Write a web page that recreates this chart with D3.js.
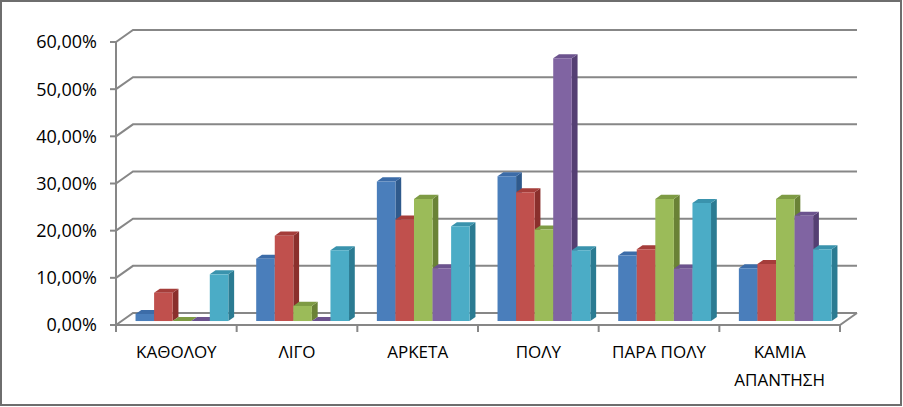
<!DOCTYPE html>
<html>
<head>
<meta charset="utf-8">
<script src="https://cdn.jsdelivr.net/npm/d3@7"></script>
<style>
  body { margin: 0; background: #fff; }
  svg { display: block; }
  text { font-family: "Open Sans", sans-serif; fill: #000; }
</style>
</head>
<body>
<div id="chart"></div>
<script>
// chart data
var categories = ["ΚΑΘΟΛΟΥ", "ΛΙΓΟ", "ΑΡΚΕΤΑ", "ΠΟΛΥ", "ΠΑΡΑ ΠΟΛΥ", "ΚΑΜΙΑ ΑΠΑΝΤΗΣΗ"];
var series1 = [0.015, 0.132, 0.296, 0.307, 0.139, 0.112];
var series2 = [0.060, 0.181, 0.215, 0.273, 0.152, 0.121];
var series3 = [0.000, 0.032, 0.259, 0.194, 0.259, 0.259];
var series4 = [0.000, 0.000, 0.112, 0.557, 0.111, 0.223];
var series5 = [0.099, 0.150, 0.201, 0.150, 0.250, 0.152];
var yTicks = [0, 0.1, 0.2, 0.3, 0.4, 0.5, 0.6];

var allSeries = [series1, series2, series3, series4, series5];

// face colours per series: front, side, top
var colors = [
  { front: "#4a7ebb", side: "#2f5a8c", top: "#3c6ca8" },
  { front: "#c0504d", side: "#8a2f2c", top: "#a53d3a" },
  { front: "#9bbb59", side: "#6a8236", top: "#7e9b44" },
  { front: "#8064a2", side: "#553f73", top: "#6c538e" },
  { front: "#4bacc6", side: "#2b7b92", top: "#3a93ad" }
];

var width = 903, height = 407;
var margin = { top: 42, right: 63, bottom: 82, left: 116 };
var depthX = 17, depthY = -12;      // wall / floor depth
var barD0 = 0.33, barD1 = 0.67;     // bar depth range inside the floor

var svg = d3.select("#chart").append("svg")
  .attr("width", width)
  .attr("height", height);

var x0 = margin.left, x1 = width - margin.right;
var yBase = height - margin.bottom;

var x = d3.scaleBand()
  .domain(categories)
  .range([x0, x1])
  .padding(0);

var xs = d3.scaleBand()
  .domain(d3.range(allSeries.length))
  .range([0, x.bandwidth()])
  .paddingInner(0)
  .paddingOuter(0.75);

var y = d3.scaleLinear()
  .domain([0, 0.6])
  .range([yBase, margin.top]);

var fmt = d3.formatLocale({ decimal: ",", thousands: ".", grouping: [3], currency: ["", "€"] }).format(".2%");

function P(px, py, d) {
  return [px + depthX * d, py + depthY * d];
}
function poly(pts) {
  return "M" + pts.map(function(p) { return p[0] + "," + p[1]; }).join("L") + "Z";
}

var gridColor = "#878787";

// back wall gridlines + left wall diagonals
var grid = svg.append("g");
yTicks.forEach(function(t) {
  var yy = y(t);
  var a = P(x0, yy, 0), b = P(x0, yy, 1), c = P(x1, yy, 1);
  grid.append("path")
    .attr("d", "M" + a + "L" + b + "L" + c)
    .attr("fill", "none")
    .attr("stroke", gridColor)
    .attr("stroke-width", 2);
  // tick mark on the front axis
  grid.append("line")
    .attr("x1", x0 - 6).attr("x2", x0)
    .attr("y1", yy).attr("y2", yy)
    .attr("stroke", gridColor)
    .attr("stroke-width", 2);
});

// floor front edge and right diagonal
var fr = P(x1, yBase, 1);
grid.append("path")
  .attr("d", "M" + [x0, yBase] + "L" + [x1, yBase] + "L" + fr)
  .attr("fill", "none")
  .attr("stroke", gridColor)
  .attr("stroke-width", 2);

// front y axis
grid.append("line")
  .attr("x1", x0).attr("x2", x0)
  .attr("y1", y(0.6)).attr("y2", yBase + 7)
  .attr("stroke", gridColor)
  .attr("stroke-width", 2);

// category ticks
categories.forEach(function(c) {
  var xx = x(c) + x.bandwidth();
  grid.append("line")
    .attr("x1", xx).attr("x2", xx)
    .attr("y1", yBase).attr("y2", yBase + 7)
    .attr("stroke", gridColor)
    .attr("stroke-width", 2);
});

// y tick labels
svg.append("g").selectAll("text")
  .data(yTicks)
  .enter().append("text")
  .attr("x", x0 - 19)
  .attr("y", function(d) { return y(d); })
  .attr("dy", "0.36em")
  .attr("text-anchor", "end")
  .style("font-size", "18px")
  .text(function(d) { return fmt(d); });

// bars (left to right so that later bars cover earlier side faces)
var bars = svg.append("g");
categories.forEach(function(c, i) {
  allSeries.forEach(function(s, j) {
    var v = s[i];
    var bx = x(c) + xs(j), bw = xs.bandwidth();
    var yb = y(0), yt = y(v);
    var col = colors[j];
    bars.append("path")
      .attr("d", poly([P(bx + bw, yt, barD0), P(bx + bw, yt, barD1), P(bx + bw, yb, barD1), P(bx + bw, yb, barD0)]))
      .attr("fill", col.side);
    bars.append("path")
      .attr("d", poly([P(bx, yt, barD0), P(bx, yt, barD1), P(bx + bw, yt, barD1), P(bx + bw, yt, barD0)]))
      .attr("fill", col.top);
    if (yb - yt > 0) {
      bars.append("path")
        .attr("d", poly([P(bx, yt, barD0), P(bx + bw, yt, barD0), P(bx + bw, yb, barD0), P(bx, yb, barD0)]))
        .attr("fill", col.front);
    }
  });
});

// category labels, wrapped when wider than the category
var labels = svg.append("g");
categories.forEach(function(c) {
  var t = labels.append("text")
    .attr("x", x(c) + x.bandwidth() / 2)
    .attr("y", yBase + 33)
    .attr("text-anchor", "middle")
    .style("font-size", "17px")
    .text(c);
  if (t.node().getComputedTextLength() > x.bandwidth()) {
    var words = c.split(" ");
    t.text(null);
    words.forEach(function(w, k) {
      t.append("tspan")
        .attr("x", x(c) + x.bandwidth() / 2)
        .attr("dy", k === 0 ? 0 : 28)
        .text(w);
    });
  }
});

// outer border
svg.append("rect")
  .attr("x", 1).attr("y", 1)
  .attr("width", width - 3).attr("height", height - 3)
  .attr("fill", "none")
  .attr("stroke", "#6e6e6e")
  .attr("stroke-width", 2);
</script>
</body>
</html>
